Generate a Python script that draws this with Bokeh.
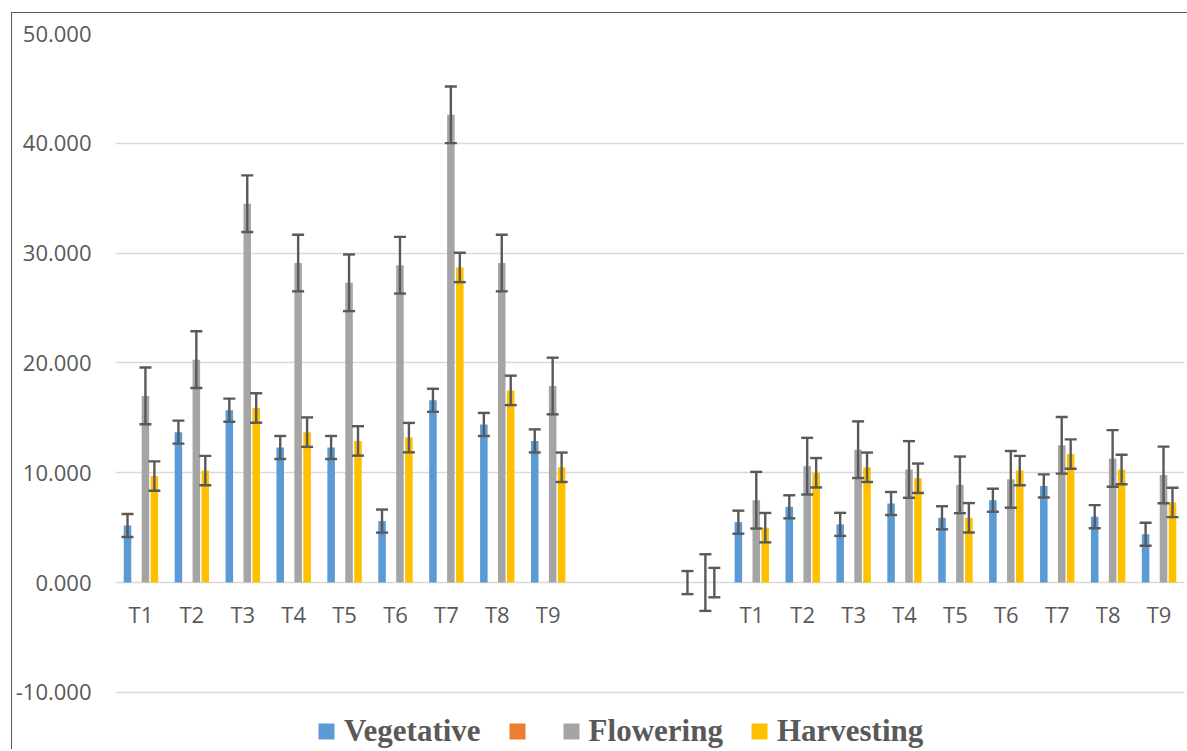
import math
from bokeh.plotting import figure
from bokeh.models import (ColumnDataSource, Range1d, FixedTicker, NumeralTickFormatter,
                          Whisker, TeeHead, Legend, LegendItem, LabelSet)
from bokeh.transform import dodge
from bokeh.core.properties import value
from bokeh.embed import file_html
from bokeh.resources import INLINE

# ---------------- data ----------------
CATEGORIES = ["T1", "T2", "T3", "T4", "T5", "T6", "T7", "T8", "T9",
              "", "", "",
              "T1", "T2", "T3", "T4", "T5", "T6", "T7", "T8", "T9"]

VEGETATIVE = [5.2, 13.7, 15.7, 12.3, 12.3, 5.6, 16.6, 14.4, 12.9,
              None, None, 0.0,
              5.5, 6.9, 5.3, 7.2, 5.9, 7.5, 8.8, 6.0, 4.4]
UNNAMED = [None] * len(CATEGORIES)
FLOWERING = [17.0, 20.3, 34.5, 29.1, 27.3, 28.9, 42.6, 29.1, 17.9,
             None, None, 0.0,
             7.5, 10.6, 12.1, 10.3, 8.9, 9.4, 12.5, 11.3, 9.8]
HARVESTING = [9.7, 10.2, 15.9, 13.7, 12.9, 13.2, 28.7, 17.5, 10.5,
              None, None, 0.0,
              5.0, 10.0, 10.5, 9.5, 5.9, 10.2, 11.7, 10.3, 7.3]

# standard-error bar half widths (same for all points of a series)
ERR_VEGETATIVE = 1.05
ERR_FLOWERING = 2.58
ERR_HARVESTING = 1.34

SERIES_NAMES = ["Vegetative", "", "Flowering", "Harvesting"]
Y_TICKS = [-10, 0, 10, 20, 30, 40, 50]

# ---------------- styling ----------------
COLORS = ["#5B9BD5", "#ED7D31", "#A5A5A5", "#FFC000"]
OFFSETS = [-0.264, -0.088, 0.088, 0.264]
BAR_W = 0.148
TEXT_GRAY = "#595959"
ERR_COLOR = "#595959"
Y_BOTTOM_PAD = 5.2   # extra room under -10 where the legend sits

xs = list(range(len(CATEGORIES)))


def clean(vals):
    return [float("nan") if v is None else v for v in vals]


p = figure(frame_width=1069, frame_height=716,
           x_range=Range1d(-0.5, len(CATEGORIES) - 0.5),
           y_range=Range1d(min(Y_TICKS) - Y_BOTTOM_PAD, max(Y_TICKS)),
           x_axis_location=None,
           output_backend="svg", toolbar_location=None,
           min_border_left=102, min_border_right=3,
           min_border_top=20, min_border_bottom=0)
p.outline_line_color = None
p.background_fill_color = "white"
p.border_fill_color = "white"
p.styles = {"border-left": "1px solid #595959", "border-top": "1px solid #595959",
            "margin-left": "11px", "margin-top": "12px"}

series = [(SERIES_NAMES[0], VEGETATIVE, ERR_VEGETATIVE),
          (SERIES_NAMES[1], UNNAMED, None),
          (SERIES_NAMES[2], FLOWERING, ERR_FLOWERING),
          (SERIES_NAMES[3], HARVESTING, ERR_HARVESTING)]

items = []
for (name, vals, err), color, off in zip(series, COLORS, OFFSETS):
    top = clean(vals)
    data = dict(x=xs, top=top)
    if err is not None:
        data["upper"] = [t + err for t in top]
        data["lower"] = [t - err for t in top]
    src = ColumnDataSource(data)
    r = p.vbar(x=dodge("x", off), top="top", width=BAR_W, bottom=0,
               source=src, fill_color=color, line_color=None)
    items.append(LegendItem(label=value(name), renderers=[r]))
    if err is not None:
        w = Whisker(source=src, base=dodge("x", off), upper="upper", lower="lower",
                    line_color=ERR_COLOR, line_width=2.4, level="overlay",
                    upper_head=TeeHead(size=12, line_color=ERR_COLOR, line_width=2.4),
                    lower_head=TeeHead(size=12, line_color=ERR_COLOR, line_width=2.4))
        p.add_layout(w)

# y axis
yt = FixedTicker(ticks=Y_TICKS)
p.yaxis.ticker = yt
p.ygrid.ticker = yt
p.yaxis.formatter = NumeralTickFormatter(format="0.000")
p.yaxis.axis_line_color = None
p.yaxis.major_tick_line_color = None
p.yaxis.minor_tick_line_color = None
p.yaxis.major_tick_out = 0
p.yaxis.major_tick_in = 0
p.yaxis.major_label_standoff = 24
p.yaxis.major_label_text_font = "Open Sans"
p.yaxis.major_label_text_font_size = "22px"
p.yaxis.major_label_text_color = TEXT_GRAY

p.ygrid.grid_line_color = "#D9D9D9"
p.ygrid.grid_line_width = 1.5
p.xgrid.visible = False

# category labels under the zero line
cat_src = ColumnDataSource(dict(x=xs, label=CATEGORIES))
cats = LabelSet(x="x", y=0, text="label", source=cat_src,
                text_align="center", text_baseline="middle", y_offset=-31,
                text_font=value("Open Sans"), text_font_size="22px",
                text_color=TEXT_GRAY)
p.add_layout(cats)

legend = Legend(items=items, orientation="horizontal", location=(201, 0),
                padding=0, margin=0, spacing=26, label_standoff=8,
                glyph_width=20, glyph_height=20, label_width=0,
                border_line_color=None, background_fill_alpha=0,
                label_text_font="Liberation Serif", label_text_font_style="bold",
                label_text_font_size="31px", label_text_color=TEXT_GRAY)
p.add_layout(legend, "center")

open("out.html", "w").write(file_html(p, INLINE))
